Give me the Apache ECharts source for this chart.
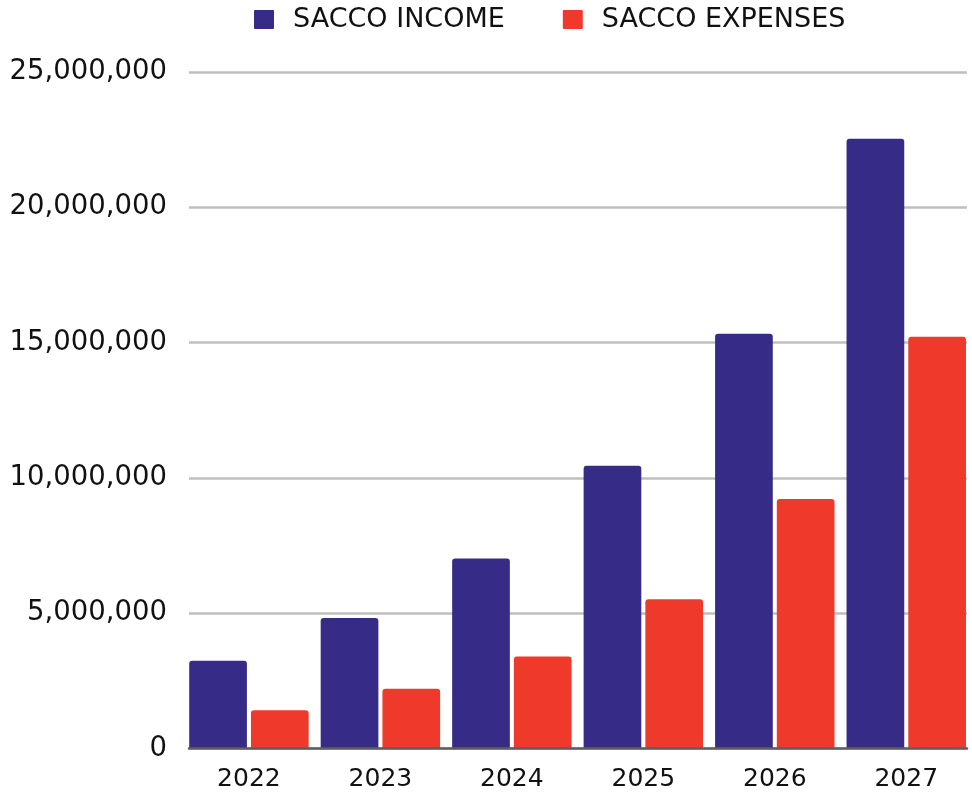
<!DOCTYPE html>
<html>
<head>
<meta charset="utf-8">
<title>SACCO Income vs Expenses</title>
<script src="https://cdn.jsdelivr.net/npm/echarts@6/dist/echarts.min.js"></script>
<style>
  html, body { margin: 0; padding: 0; background: #ffffff; }
  #chart { width: 972px; height: 795px; }
</style>
</head>
<body>
<div id="chart"></div>
<script>
// Years on the category axis
const years = ['2022', '2023', '2024', '2025', '2026', '2027'];
// Projected SACCO income per year
const income = [3240000, 4820000, 7020000, 10450000, 15330000, 22530000];
// Projected SACCO expenses per year
const expenses = [1410000, 2210000, 3400000, 5520000, 9220000, 15220000];
// Value axis range and step
const yMin = 0;
const yMax = 25000000;
const yStep = 5000000;

const FONT = 'DejaVu Sans';
const INCOME_COLOR = '#362B86';
const EXPENSE_COLOR = '#EF3A2B';

const chart = echarts.init(document.getElementById('chart'), null, { renderer: 'canvas' });

const fmt = v => v.toLocaleString('en-US');

chart.setOption({
  animation: false,
  backgroundColor: '#ffffff',
  legend: {
    left: 254,
    top: 6,
    padding: 0,
    itemWidth: 20,
    itemHeight: 19,
    itemGap: 58,
    icon: 'path://M1,0 L19,0 Q20,0 20,1 L20,18 Q20,19 19,19 L1,19 Q0,19 0,18 L0,1 Q0,0 1,0 Z',
    textStyle: {
      fontFamily: FONT,
      fontSize: 27,
      color: '#111111',
      padding: [0, 0, 0, 14]
    },
    data: ['SACCO INCOME', 'SACCO EXPENSES']
  },
  grid: [
    // gridlines, value labels and baseline
    { left: 189, right: 5, top: 72, bottom: 46.5 },
    // bars and year labels
    { left: 183.2, right: 0, top: 72, bottom: 46.5 }
  ],
  xAxis: [
    {
      type: 'category',
      gridIndex: 0,
      data: years,
      z: 5,
      axisLine: { show: true, lineStyle: { color: '#5f5f5f', width: 2.5 } },
      axisTick: { show: false },
      axisLabel: { show: false },
      splitLine: { show: false }
    },
    {
      type: 'category',
      gridIndex: 1,
      data: years,
      axisLine: { show: false },
      axisTick: { show: false },
      axisLabel: {
        margin: 18,
        fontFamily: FONT,
        fontSize: 25,
        color: '#111111'
      },
      splitLine: { show: false }
    }
  ],
  yAxis: [
    {
      type: 'value',
      gridIndex: 0,
      min: yMin,
      max: yMax,
      interval: yStep,
      axisLine: { show: false },
      axisTick: { show: false },
      axisLabel: {
        margin: 22,
        fontFamily: FONT,
        fontSize: 27.5,
        color: '#111111',
        padding: [4, 0, 0, 0],
        formatter: v => fmt(v)
      },
      splitLine: { show: true, lineStyle: { color: '#bfbfbf', width: 2.5 } }
    },
    {
      type: 'value',
      gridIndex: 1,
      min: yMin,
      max: yMax,
      interval: yStep,
      show: false,
      splitLine: { show: false }
    }
  ],
  series: [
    {
      name: 'SACCO INCOME',
      type: 'bar',
      xAxisIndex: 1,
      yAxisIndex: 1,
      data: income,
      barWidth: 57.7,
      barGap: '7%',
      itemStyle: { color: INCOME_COLOR, borderRadius: [3, 3, 0, 0] }
    },
    {
      name: 'SACCO EXPENSES',
      type: 'bar',
      xAxisIndex: 1,
      yAxisIndex: 1,
      data: expenses,
      barWidth: 57.7,
      barGap: '7%',
      itemStyle: { color: EXPENSE_COLOR, borderRadius: [3, 3, 0, 0] }
    }
  ]
});
</script>
</body>
</html>
